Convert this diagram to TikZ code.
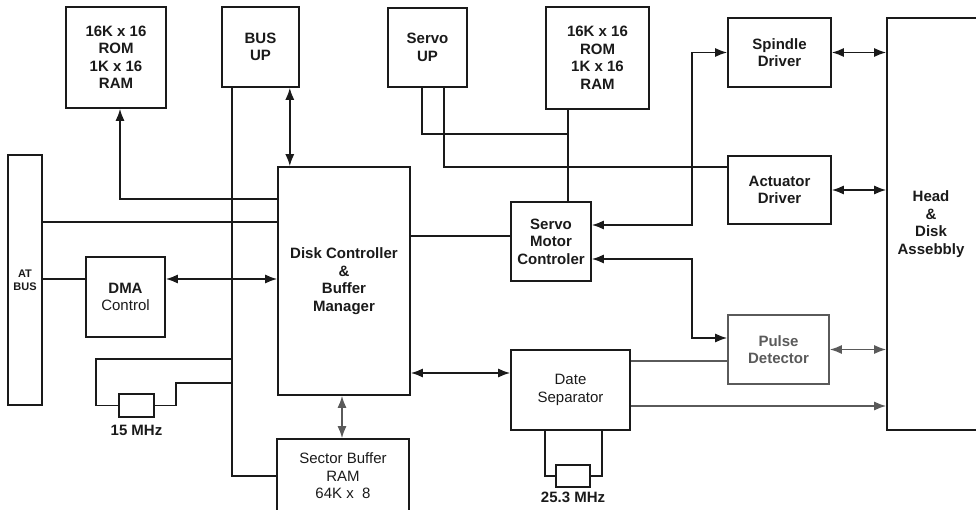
\documentclass[tikz,border=0pt]{standalone}
\usepackage{fontspec}
\setsansfont{Liberation Sans}
\usetikzlibrary{arrows.meta, positioning}
\definecolor{linedark}{HTML}{1a1a1a}
\definecolor{linedim}{HTML}{5a5a5a}

\begin{document}
\begin{tikzpicture}[
  x=1pt, y=-1pt,
  font=\sffamily\bfseries\fontsize{15}{17.5}\selectfont,
  >={Latex[length=12pt,width=9pt]},
  every node/.style={text=linedark},
  block/.style={
    rectangle, draw=linedark, line width=1.6pt,
    align=center, inner sep=0pt
  },
  xtal/.style={
    rectangle, draw=linedark, line width=1.6pt,
    minimum width=35pt, minimum height=23pt
  },
  wire/.style={draw=linedark, line width=1.6pt},
  link/.style={->, wire},
  duplex/.style={<->, wire}
]

\useasboundingbox (0,0) rectangle (976,510);

% ── Memory and processors (top row) ───────────────────────────────────────
\node[block, minimum width=100pt, minimum height=101pt]
  (rom1) at (116,57.5) {16K x 16\\ROM\\1K x 16\\RAM};

\node[block, minimum width=77pt, minimum height=80pt]
  (busup) at (260.5,47) {BUS\\UP};

\node[block, minimum width=79pt, minimum height=79pt]
  (servoup) at (427.5,47.5) {Servo\\UP};

\node[block, minimum width=103pt, minimum height=102pt]
  (rom2) at (597.5,58) {16K x 16\\ROM\\1K x 16\\RAM};

% ── Drivers and disk ──────────────────────────────────────────────────────
\node[block, minimum width=103pt, minimum height=69pt]
  (spin) at (779.5,52.5) {Spindle\\Driver};

\node[block, minimum width=103pt, minimum height=68pt]
  (act) at (779.5,190) {Actuator\\Driver};

\node[block, minimum width=101pt, minimum height=69pt, draw=linedim,
      text=linedim]
  (pulse) at (778.5,349.5) {Pulse\\Detector};

\node[block, minimum width=100pt, minimum height=412pt]
  (head) at (937,224) {\hspace*{-12pt}Head\\\hspace*{-12pt}\&\\\hspace*{-12pt}Disk\\\hspace*{-12pt}Assebbly};

% ── Host side ─────────────────────────────────────────────────────────────
\node[block, minimum width=34pt, minimum height=250pt,
      font=\sffamily\bfseries\fontsize{11}{13}\selectfont]
  (atbus) at (25,280) {AT\\BUS};

\node[block, minimum width=79pt, minimum height=80pt]
  (dma) at (125.5,297) {DMA\\\mdseries Control};

\node[block, minimum width=132pt, minimum height=228pt]
  (dc) at (344,281) {Disk Controller\\\&\\Buffer\\Manager};

\node[block, minimum width=80pt, minimum height=79pt]
  (smc) at (551,241.5) {Servo\\Motor\\Controler};

\node[block, minimum width=119pt, minimum height=80pt,
      font=\sffamily\fontsize{15}{17.5}\selectfont]
  (ds) at (570.5,390) {Date\\Separator};

\node[block, minimum width=132pt, minimum height=74pt,
      font=\sffamily\fontsize{15}{17.5}\selectfont]
  (sbuf) at (343,476) {Sector Buffer\\RAM\\64K x~~8};

% ── Crystals ──────────────────────────────────────────────────────────────
\node[xtal] (xtal1) at (136.5,405.5) {};
\node[below=4pt of xtal1] (f1) {15 MHz};

\node[xtal, minimum width=34pt, minimum height=22pt] (xtal2) at (573,476) {};
\node[below=1pt of xtal2] (f2) {25.3 MHz};

% ── Bus lines ─────────────────────────────────────────────────────────────
\coordinate (busL) at ([xshift=11pt]busup.south west);
\coordinate (busR) at ([xshift=-10pt]busup.south east);
\coordinate (dcA)  at ([yshift=-33pt]dc.north west);
\coordinate (dcB)  at ([yshift=-56pt]dc.north west);
\coordinate (dmaA) at ([yshift=18pt]dma.west);
\coordinate (tapA) at (busL |- 0,359);
\coordinate (tapB) at (busL |- 0,383);

\draw[link] (dcA) -| ([xshift=4pt]rom1.south);
\draw[wire] (atbus.east |- dcB) -- (dcB);
\draw[wire] (busL) |- (sbuf.west);
\draw[duplex] (busR) -- (busR |- dc.north);
\draw[wire] (atbus.east |- dmaA) -- (dmaA);
\draw[duplex] ([yshift=18pt]dma.east) -- (dc.west |- dmaA);

\draw[wire] (tapA) -| ([xshift=-22pt]xtal1.west) -- (xtal1.west);
\draw[wire] (xtal1.east) -| ([xshift=21pt]xtal1.east |- tapB) -- (tapB);

% ── Servo side ────────────────────────────────────────────────────────────
\coordinate (r2)   at ([xshift=-29.5pt]rom2.south);
\coordinate (tapC) at ([yshift=-24pt]r2);
\coordinate (smA)  at ([yshift=5.5pt]smc.west);

\draw[wire] (r2) -- (r2 |- smc.north);
\draw[wire] ([xshift=-5.5pt]servoup.south) |- (tapC);
\draw[wire] ([xshift=16.5pt]servoup.south) |- ([yshift=23pt]act.west);
\draw[wire] (smA) -- (dc.east |- smA);

\draw[duplex] ([yshift=16.5pt]smc.east) -| ([xshift=-35pt]spin.west) -- (spin.west);
\draw[duplex] ([yshift=-17.5pt]smc.east)
  -| ([xshift=-35pt,yshift=11.5pt]pulse.west) -- ([yshift=11.5pt]pulse.west);

\draw[duplex] (spin.east) -- (head.west |- spin.east);
\draw[duplex] (act.east) -- (head.west |- act.east);
\draw[duplex, draw=linedim] (pulse.east) -- (head.west |- pulse.east);

% ── Data path ─────────────────────────────────────────────────────────────
\coordinate (dsA) at ([yshift=17pt]ds.west);
\coordinate (dsB) at ([yshift=-16pt]ds.east);
\coordinate (psA) at ([yshift=-11.5pt]pulse.west);

\draw[wire, draw=linedim] (ds.east |- psA) -- (psA);
\draw[link, draw=linedim] (dsB) -- (head.west |- dsB);
\draw[duplex] (dc.east |- dsA) -- (dsA);
\draw[duplex, draw=linedim] ([xshift=-2pt]dc.south) -- ([xshift=-1pt]sbuf.north);

\draw[wire] ([xshift=-25.5pt]ds.south) |- (xtal2.west);
\draw[wire] ([xshift=31.5pt]ds.south) |- (xtal2.east);

\end{tikzpicture}
\end{document}
